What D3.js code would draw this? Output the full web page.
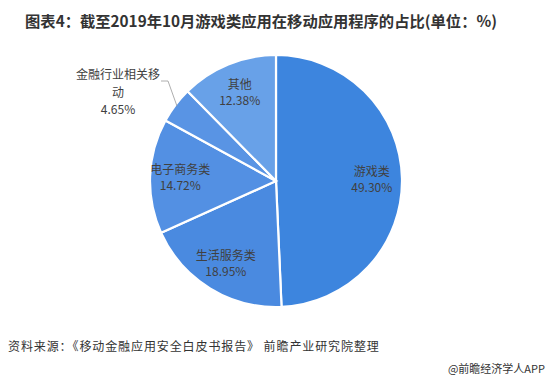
<!DOCTYPE html>
<html lang="zh">
<head>
<meta charset="UTF-8">
<title>游戏类应用占比</title>
<style>
    body { margin: 0; background: #fff; }
    svg { display: block; font-family: "Noto Sans CJK SC", "Noto Sans", sans-serif; }
</style>
</head>
<body>
<svg width="549" height="379"></svg>
<script src="https://cdnjs.cloudflare.com/ajax/libs/d3/7.8.5/d3.min.js"></script>
<script>
    // 数据
    const categories = ['游戏类', '生活服务类', '电子商务类', '金融行业相关移动', '其他'];
    const shares = [49.30, 18.95, 14.72, 4.65, 12.38];
    const colors = ['#3d85de', '#4a8ae0', '#5390e3', '#5994e4', '#68a1e8'];

    const title = '图表4：截至2019年10月游戏类应用在移动应用程序的占比(单位：%)';
    const source = '资料来源：《移动金融应用安全白皮书报告》 前瞻产业研究院整理';
    const brand = '@前瞻经济学人APP';

    const svg = d3.select('svg');
    const cx = 276, cy = 181, r = 126;

    // 标题
    svg.append('text')
        .attr('x', 261).attr('y', 27)
        .attr('text-anchor', 'middle')
        .attr('font-size', 15.3).attr('font-weight', 'bold')
        .attr('fill', '#333')
        .text(title);

    const pie = d3.pie().sort(null).value(d => d.v);
    const data = pie(categories.map((c, i) => ({ c: c, v: shares[i], col: colors[i] })));
    const arc = d3.arc().innerRadius(0).outerRadius(r);
    const labelArc = d3.arc().innerRadius(r * 0.76).outerRadius(r * 0.76);

    const g = svg.append('g').attr('transform', `translate(${cx},${cy})`);

    g.selectAll('path')
        .data(data)
        .enter()
        .append('path')
        .attr('d', arc)
        .attr('fill', d => d.data.col)
        .attr('stroke', '#fff')
        .attr('stroke-width', 2.2);

    // 扇区内标签
    const inner = data.filter(d => d.data.v > 10);
    const lab = g.selectAll('.lab')
        .data(inner)
        .enter()
        .append('text')
        .attr('class', 'lab')
        .attr('transform', d => `translate(${labelArc.centroid(d)})`)
        .attr('text-anchor', 'middle')
        .attr('font-size', 12)
        .attr('fill', '#404040');
    lab.append('tspan').attr('x', 0).attr('y', -3).text(d => d.data.c);
    lab.append('tspan').attr('x', 0).attr('y', 13).text(d => d.data.v.toFixed(2) + '%');

    // 小扇区外部标签(金融)
    const small = data.filter(d => d.data.v <= 10);
    small.forEach(d => {
        const mid = (d.startAngle + d.endAngle) / 2;
        const p0 = [Math.sin(mid) * (r - 2), -Math.cos(mid) * (r - 2)];
        const p1 = [-108, -100];
        const p2 = [-115, -100];
        g.append('polyline')
            .attr('points', [p0, p1, p2].map(p => p.join(',')).join(' '))
            .attr('fill', 'none')
            .attr('stroke', '#999')
            .attr('stroke-width', 0.8);
        const t = g.append('text')
            .attr('text-anchor', 'middle')
            .attr('font-size', 12)
            .attr('fill', '#404040');
        const name = d.data.c;
        t.append('tspan').attr('x', -158).attr('y', -102).text(name.slice(0, 7));
        t.append('tspan').attr('x', -158).attr('y', -84).text(name.slice(7));
        t.append('tspan').attr('x', -158).attr('y', -67).text(d.data.v.toFixed(2) + '%');
    });

    // 来源
    svg.append('text')
        .attr('x', 8).attr('y', 351)
        .attr('font-size', 12)
        .attr('letter-spacing', 0.9)
        .attr('fill', '#333')
        .text(source);

    svg.append('text')
        .attr('x', 545).attr('y', 373)
        .attr('text-anchor', 'end')
        .attr('font-size', 11)
        .attr('fill', '#333')
        .text(brand);
</script>
</body>
</html>
